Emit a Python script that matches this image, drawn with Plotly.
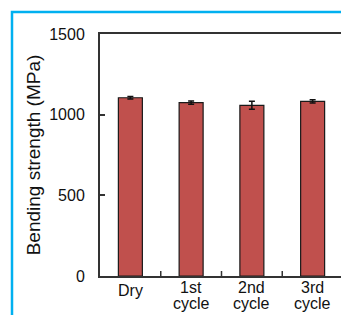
import plotly.graph_objects as go

categories = ["Dry", "1st cycle", "2nd cycle", "3rd cycle"]
strength = [1105, 1075, 1058, 1083]
errors = [8, 10, 25, 10]

# page has an 8px body margin, so the figure is placed at (8, 8)
OFF = 8
W, H = 349 - OFF, 315 - OFF
L, R, T, B = 100 - OFF, 6, 34 - OFF, 39
pw = W - L - R
ph = H - T - B

fig = go.Figure()
fig.add_trace(go.Bar(
    x=list(range(len(categories))), y=strength,
    width=0.395,
    marker=dict(color="#C0504D", line=dict(color="#1a1a1a", width=1.2)),
    error_y=dict(type="data", array=errors, color="#111111", thickness=1.5, width=3),
))

fig.update_layout(
    width=W, height=H,
    margin=dict(l=L, r=R, t=T, b=B, autoexpand=False),
    paper_bgcolor="white", plot_bgcolor="white",
    showlegend=False,
    font=dict(family="Liberation Sans, Arial, sans-serif", size=16, color="#111111"),
)
fig.update_xaxes(
    range=[-0.5, 3.5],
    tickmode="array", tickvals=list(range(len(categories))), ticktext=[""] * len(categories),
    ticks="", showline=True, linecolor="#333333", linewidth=2, mirror=True,
    showgrid=False, zeroline=False, automargin=False,
)
fig.update_yaxes(
    range=[0, 1500], tickvals=[0, 500, 1000, 1500],
    ticks="inside", ticklen=5, tickwidth=1.5, tickcolor="#333333",
    showline=True, linecolor="#333333", linewidth=2, mirror=True,
    showgrid=False, zeroline=False, tickfont=dict(size=16),
    ticklabelstandoff=10, automargin=False,
    title=dict(text="Bending strength (MPa)", font=dict(size=19), standoff=4),
)

annotations = []
for i, c in enumerate(categories):
    parts = c.split(" ")
    if len(parts) == 1:
        annotations.append(dict(x=i, y=0, xref="x", yref="paper", text=parts[0], showarrow=False,
                                yanchor="middle", yshift=-14, font=dict(size=16)))
    else:
        annotations.append(dict(x=i, y=0, xref="x", yref="paper", text=parts[0], showarrow=False,
                                yanchor="middle", yshift=-11, font=dict(size=16)))
        annotations.append(dict(x=i, y=0, xref="x", yref="paper", text=parts[1], showarrow=False,
                                yanchor="middle", yshift=-27, font=dict(size=16)))

shapes = []
for xb in [0.5, 1.5, 2.5]:
    shapes.append(dict(type="line", xref="x", yref="paper", x0=xb, x1=xb, y0=0, y1=5 / ph,
                       line=dict(color="#333333", width=1.5)))
# blue frame (page x=12, y=12)
fx0 = (12 - OFF - L) / pw
fx1 = (360 - OFF - L) / pw
fy1 = (H - B - (12 - OFF)) / ph
fy0 = -0.3
shapes.append(dict(type="rect", xref="paper", yref="paper", x0=fx0, x1=fx1, y0=fy0, y1=fy1,
                   line=dict(color="#00B0F0", width=2.5), layer="below"))
fig.update_layout(shapes=shapes, annotations=annotations)

fig.write_html("out.html")
